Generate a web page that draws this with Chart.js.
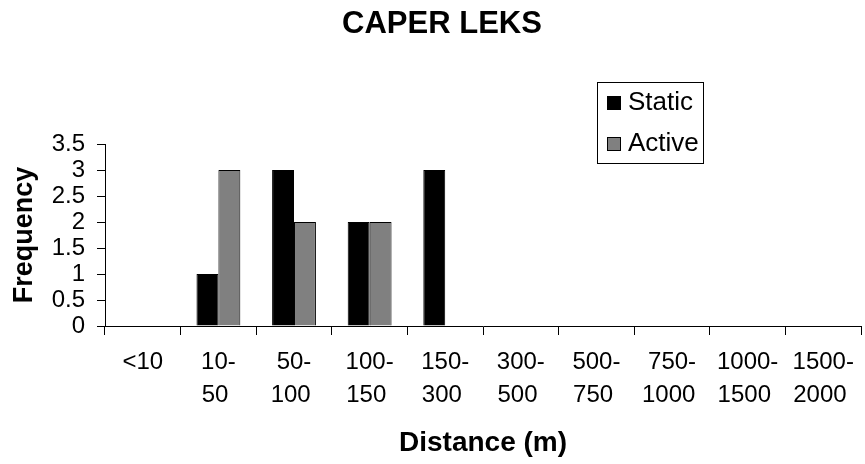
<!DOCTYPE html>
<html>
<head>
<meta charset="utf-8">
<title>CAPER LEKS</title>
<script src="https://cdn.jsdelivr.net/npm/chart.js@4.4.1/dist/chart.umd.min.js"></script>
<style>
    body { margin: 0; background: #fff; }
    #caper-leks { display: block; }
</style>
</head>
<body>
<canvas id="caper-leks" width="865" height="464"></canvas>
<script>
// Data
const distance_labels = [['<10'], ['10-', '50'], ['50-', '100'], ['100-', '150'], ['150-', '300'],
    ['300-', '500'], ['500-', '750'], ['750-', '1000'], ['1000-', '1500'], ['1500-', '2000']];
const static_values = [0, 1, 3, 2, 3, 0, 0, 0, 0, 0];
const active_values = [0, 3, 2, 2, 0, 0, 0, 0, 0, 0];
const frequency_ticks = [0, 0.5, 1, 1.5, 2, 2.5, 3, 3.5];

const font_name = '"Liberation Sans", Arial, sans-serif';

// title + boxed legend drawn by hand, Excel style
const excel_extras = {
    id: 'excel_extras',
    afterDraw(chart) {
        const ctx = chart.ctx;
        ctx.save();
        ctx.fillStyle = '#000';
        ctx.textAlign = 'center';
        ctx.textBaseline = 'middle';
        ctx.font = 'bold 31px ' + font_name;
        ctx.fillText('CAPER LEKS', 442, 24);

        // legend box
        ctx.fillStyle = '#fff';
        ctx.fillRect(597.5, 82.5, 106, 81);
        ctx.strokeStyle = '#000';
        ctx.lineWidth = 1;
        ctx.strokeRect(597.5, 82.5, 106, 81);

        ctx.font = '26px ' + font_name;
        ctx.textAlign = 'left';
        chart.data.datasets.forEach(function (ds, i) {
            const y = 103 + i * 41;
            ctx.fillStyle = ds.backgroundColor;
            ctx.fillRect(607.5, y - 6.5, 13, 13);
            ctx.strokeRect(607.5, y - 6.5, 13, 13);
            ctx.fillStyle = '#000';
            ctx.fillText(ds.label, 628, y);
        });
        ctx.restore();
    }
};

const chart_caper = new Chart(document.getElementById('caper-leks'), {
    type: 'bar',
    data: {
        labels: distance_labels,
        datasets: [{
            label: 'Static',
            data: static_values,
            backgroundColor: '#000000',
            borderColor: '#000000',
            borderWidth: 1,
            categoryPercentage: 0.58,
            barPercentage: 1
        }, {
            label: 'Active',
            data: active_values,
            backgroundColor: '#808080',
            borderColor: '#000000',
            borderWidth: 1,
            categoryPercentage: 0.58,
            barPercentage: 1
        }]
    },
    options: {
        responsive: false,
        animation: false,
        layout: { padding: { top: 144, right: 1, left: 0, bottom: 0 } },
        plugins: {
            legend: { display: false },
            title: { display: false },
            tooltip: { enabled: false }
        },
        scales: {
            x: {
                grid: { drawOnChartArea: false, color: '#000', tickLength: 9, offset: true },
                border: { color: '#000' },
                ticks: {
                    color: '#000',
                    maxRotation: 0,
                    autoSkip: false,
                    padding: 11,
                    // second line gets a trailing space so the wrapped lines start together like Excel
                    callback: function (value, index) {
                        const lines = distance_labels[index];
                        return lines.length > 1 ? [lines[0], lines[1] + ' '] : lines;
                    },
                    font: { family: font_name, size: 24, lineHeight: 1.38 }
                },
                title: {
                    display: true,
                    text: 'Distance (m)',
                    color: '#000',
                    padding: { top: 0, bottom: 4 },
                    font: { family: font_name, size: 28, weight: 'bold' }
                },
                afterFit: function (scale) { scale.height = 138; }
            },
            y: {
                min: 0,
                max: 3.5,
                grid: { drawOnChartArea: false, color: '#000', tickLength: 8 },
                border: { color: '#000' },
                afterBuildTicks: function (scale) {
                    scale.ticks = frequency_ticks.map(function (v) { return { value: v }; });
                },
                ticks: {
                    color: '#000',
                    padding: 12,
                    autoSkip: false,
                    callback: function (value) { return String(value); },
                    font: { family: font_name, size: 24 }
                },
                title: {
                    display: true,
                    text: 'Frequency',
                    color: '#000',
                    padding: { top: 8, bottom: 0 },
                    font: { family: font_name, size: 27, weight: 'bold' }
                },
                afterFit: function (scale) { scale.width = 105; }
            }
        }
    },
    plugins: [excel_extras]
});
</script>
</body>
</html>
